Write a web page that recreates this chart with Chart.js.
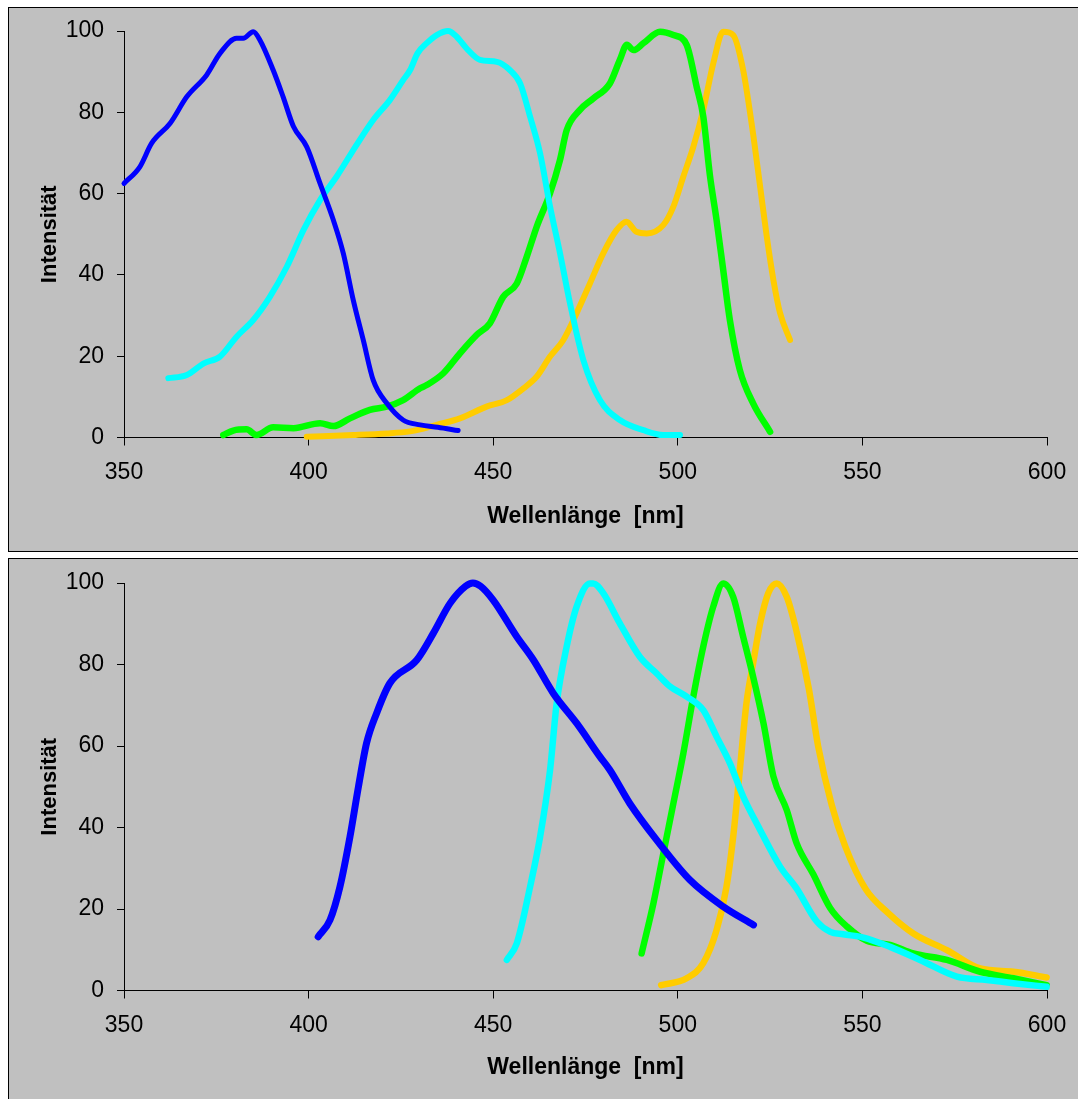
<!DOCTYPE html>
<html>
<head>
<meta charset="utf-8">
<script src="https://cdn.jsdelivr.net/npm/chart.js@4"></script>
<style>
  body { margin: 0; background: #fff; width: 1078px; height: 1099px; overflow: hidden; position: relative; }
  .panel { position: absolute; left: 8px; width: 1080px; height: 545px; border: 1px solid #000; background: #c0c0c0; box-sizing: border-box; }
  #p1 { top: 7px; }
  #p2 { top: 558px; }
  .panel canvas { position: absolute; left: 0; top: 0; }
</style>
</head>
<body>
<div class="panel" id="p1"><canvas id="top" width="1068" height="543"></canvas></div>
<div class="panel" id="p2"><canvas id="bottom" width="1068" height="543"></canvas></div>
<script>
// upper chart
var topBlueX = [350, 354.3, 357.5, 362.5, 367, 372.4, 376, 380.5, 382.3, 385, 386.8, 390.4, 393.1, 395.9, 399.5, 403.1, 406.7, 409.4, 412.1, 414.8, 417.5, 421.2, 425.6, 430.2, 435, 440.5];
var topBlueY = [62.5, 66.6, 72.4, 77.3, 83.8, 89.2, 94.5, 98.2, 98.2, 99.8, 97.8, 90.4, 83.8, 76.5, 71.5, 62.5, 53.5, 45.3, 33.8, 24, 14.1, 8.4, 4.3, 3.1, 2.5, 1.7];

var topCyanX = [362, 367, 371.5, 376, 380.5, 385, 389.5, 394.1, 398.6, 403.1, 407.6, 413, 417.5, 422, 425.6, 427.5, 429.5, 432, 434.7, 437.8, 440.1, 442.8, 446.4, 451, 454.5, 457.3, 460, 462.7, 465.4, 468.1, 470.8, 474.4, 478.9, 484.3, 490.7, 496.1, 500.6];
var topCyanY = [14.6, 15.4, 18.2, 19.9, 24.8, 28.9, 34.6, 42, 51, 58.4, 64.2, 72, 78.1, 83, 87.9, 90.4, 94.5, 97, 99, 100, 98.6, 95.7, 92.9, 92.4, 90.4, 87.1, 78.9, 69.9, 56.8, 45.3, 33, 19.1, 9.2, 4.3, 1.8, 0.6, 0.6];

var topGreenX = [376.9, 379.6, 383.2, 385.9, 390.4, 395.9, 403.1, 406.7, 411.2, 416.6, 421.2, 425.6, 430.2, 432, 436.5, 441, 445.5, 449.1, 452.7, 456.4, 459.1, 461.8, 465.4, 468.1, 469.9, 473.5, 477.1, 481.6, 484.3, 486.2, 488, 490.7, 495.2, 498.8, 502.4, 505.1, 506.9, 508.7, 510.5, 512.3, 514.1, 516.8, 520.4, 525];
var topGreenY = [0.6, 1.7, 2, 0.6, 2.5, 2.3, 3.5, 2.8, 4.7, 6.8, 7.6, 9.2, 12.1, 12.9, 15.8, 20.7, 25.2, 28.1, 34.6, 37.9, 44.5, 51.9, 60.1, 68.3, 75.6, 80.6, 83.4, 87.1, 92.9, 96.6, 95.3, 97, 99.8, 99, 96.6, 86.3, 79, 64.5, 53.5, 41.2, 28.9, 16.6, 8.4, 1.4];

var topOrangeX = [399.5, 412.1, 421.2, 427.5, 430.2, 434.7, 441, 448.2, 453.7, 458.2, 461.8, 465.4, 469, 472.6, 476.2, 479.8, 483.4, 486.1, 488.8, 491.6, 496.1, 498.8, 501.5, 504.2, 506.9, 509.6, 512.3, 515, 517.7, 520.5, 522.3, 524.1, 525.9, 527.7, 530.4];
var topOrangeY = [0.2, 0.6, 1, 1.5, 2, 3.1, 4.7, 7.6, 9.2, 12.1, 15, 19.9, 24, 30.6, 37.9, 45.3, 51, 53.1, 50.6, 50.2, 52.3, 56.8, 64.2, 71.5, 80.6, 92, 99.8, 99, 90.4, 74, 61.7, 49.4, 38.7, 30.6, 24];

// lower chart
var botBlueX = [402.6, 405.8, 408.5, 411.2, 413.5, 415.7, 418.4, 422, 429.3, 433.8, 438.3, 442.5, 444.5, 446.6, 450, 456.4, 460.9, 466.3, 472.6, 478.9, 481.6, 487, 494.3, 503.3, 512.3, 520.5];
var botBlueY = [13.2, 17.3, 25.5, 37.7, 50, 60.7, 68, 75.4, 81.1, 87.7, 95, 99.2, 100, 99.2, 95.8, 86.8, 81.1, 72.9, 65.6, 57.4, 54.1, 45.9, 36.9, 27.1, 20.6, 16.1];

var botCyanX = [453.7, 456.4, 460, 462.7, 465.4, 467.2, 469.9, 472.6, 476.2, 477.1, 479.8, 484.3, 489.7, 494.3, 497.9, 502.4, 506.9, 510.5, 514.1, 517.7, 522.3, 527.7, 532.2, 537.6, 541.3, 544.8, 550.3, 557.5, 565.6, 575.6, 583.7, 590.9, 599.9];
var botCyanY = [7.5, 11.6, 25.5, 37.7, 54.1, 70.5, 84.4, 94.2, 99.9, 99.9, 97.5, 90.1, 81.9, 77.8, 74.6, 72.1, 68.8, 62.3, 55.8, 47.6, 39.4, 30.4, 25, 17, 14.4, 13.8, 13, 10.7, 7.5, 3.4, 2.6, 1.8, 0.9];

var botGreenX = [490.2, 493.4, 496.1, 498.8, 501.5, 504.2, 506.9, 509.6, 512.3, 515, 517.7, 520.4, 523.2, 525.9, 529.5, 532.2, 536.7, 541.3, 545.8, 551.2, 557.5, 563.8, 572.9, 581.9, 590.9, 599.9];
var botGreenY = [9.1, 21.4, 33.7, 45.9, 58.2, 72.1, 84.4, 94.2, 99.9, 96.6, 86.8, 77, 65.6, 52.5, 44.3, 36.1, 28.5, 20.2, 15.7, 12.2, 11.2, 9.1, 7.5, 4.6, 3, 1.3];

var botOrangeX = [495.5, 502.4, 506.9, 510.5, 513.2, 515, 516.8, 518.6, 520.4, 522.3, 524.5, 526.8, 529.5, 532.2, 535.5, 538, 541.7, 545.3, 550.8, 557, 563.8, 572.9, 581.9, 590.9, 599.9];
var botOrangeY = [1.3, 3, 6.7, 14.8, 25.5, 37.7, 54.1, 70.5, 80.3, 90.1, 97.5, 99.9, 96.6, 88, 74, 60, 45.5, 35.5, 25, 19, 14, 9.9, 5.4, 4.6, 3.2];

var xTicks = [350, 400, 450, 500, 550, 600];
var yTicks = [0, 20, 40, 60, 80, 100];

Chart.defaults.font.family = "'Liberation Sans', Arial, sans-serif";
Chart.defaults.color = "#000";

function pts(xs, ys) {
  return xs.map(function (x, i) { return { x: x, y: ys[i] }; });
}

function line(xs, ys, color, w) {
  return {
    data: pts(xs, ys),
    borderColor: color,
    borderWidth: w,
    showLine: true,
    pointRadius: 0,
    cubicInterpolationMode: "monotone",
    borderCapStyle: "round",
    borderJoinStyle: "round",
    clip: false
  };
}

function makeChart(id, datasets, padTop, xHeight) {
  return new Chart(id, {
    type: "scatter",
    data: { datasets: datasets },
    options: {
      responsive: false,
      animation: false,
      devicePixelRatio: 1,
      layout: { padding: { top: padTop, right: 30, left: 0, bottom: 0 } },
      plugins: { legend: { display: false }, tooltip: { enabled: false } },
      scales: {
        x: {
          type: "linear",
          min: xTicks[0],
          max: xTicks[xTicks.length - 1],
          afterBuildTicks: function (s) { s.ticks = xTicks.map(function (v) { return { value: v }; }); },
          afterFit: function (s) { s.height = xHeight; s.paddingLeft = 0; s.paddingRight = 0; },
          ticks: { font: { size: 23 }, padding: 13, color: "#000", maxRotation: 0 },
          grid: { drawOnChartArea: false, tickLength: 8, color: "#000" },
          border: { color: "#000", width: 1 },
          title: { display: true, text: "Wellenlänge  [nm]", font: { size: 23, weight: "bold" }, color: "#000", padding: { top: 0, bottom: 21 } }
        },
        y: {
          min: 0,
          max: 100,
          afterBuildTicks: function (s) { s.ticks = yTicks.map(function (v) { return { value: v }; }); },
          afterFit: function (s) { s.width = 115; s.paddingTop = 0; s.paddingBottom = 0; },
          ticks: { font: { size: 23 }, padding: 13, color: "#000" },
          grid: { drawOnChartArea: false, tickLength: 7, color: "#000" },
          border: { color: "#000", width: 1 },
          title: { display: true, text: "Intensität", font: { size: 22, weight: "bold" }, color: "#000", padding: { top: 28, bottom: 0 } }
        }
      }
    }
  });
}

makeChart("top", [
  line(topBlueX, topBlueY, "#0000ff", 5),
  line(topCyanX, topCyanY, "#00ffff", 6),
  line(topGreenX, topGreenY, "#00ff00", 6.5),
  line(topOrangeX, topOrangeY, "#ffcc00", 6)
], 23, 113.5);

makeChart("bottom", [
  line(botBlueX, botBlueY, "#0000ff", 7),
  line(botCyanX, botCyanY, "#00ffff", 6.5),
  line(botGreenX, botGreenY, "#00ff00", 6.5),
  line(botOrangeX, botOrangeY, "#ffcc00", 6.5)
], 24, 111.5);
</script>
</body>
</html>
